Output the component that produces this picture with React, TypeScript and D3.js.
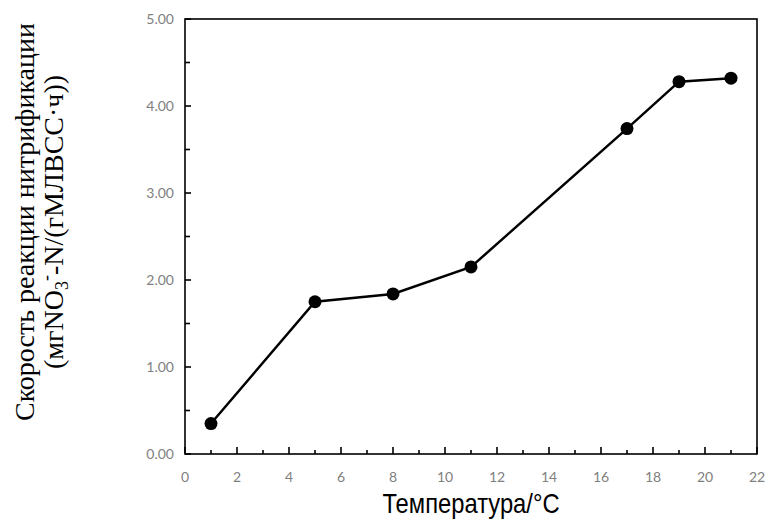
import React from "react";
import * as d3 from "d3";

const temperatures = [1, 5, 8, 11, 17, 19, 21];
const rates = [0.35, 1.75, 1.84, 2.15, 3.74, 4.28, 4.32];
const xTicks = [0, 2, 4, 6, 8, 10, 12, 14, 16, 18, 20, 22];
const xMinor = d3.range(1, 22, 2);
const yTicks = [0, 1, 2, 3, 4, 5];
const yMinor = [0.5, 1.5, 2.5, 3.5, 4.5];
const xTitle = "Температура/°C";
const yTitle1 = "Скорость реакции нитрификации";

const W = 767, H = 525;
const L = 185, R = 757, T = 19, B = 454;

export default function App() {
  const x = d3.scaleLinear().domain([0, 22]).range([L, R]);
  const y = d3.scaleLinear().domain([0, 5]).range([B, T]);
  const line = d3.line<number>().x((_, i) => x(temperatures[i])).y((d) => y(d));
  const tickFont = "Lato, 'Open Sans', sans-serif";
  return (
    <svg width={W} height={H} style={{ position: "absolute", left: 0, top: 0 }}>
      <rect x={0} y={0} width={W} height={H} fill="#fff" />
      <rect x={L} y={T} width={R - L} height={B - T} fill="none" stroke="#000" strokeWidth={1.6} />
      {yTicks.map((t) => (
        <g key={"y" + t}>
          <line x1={L} x2={L + 6} y1={y(t)} y2={y(t)} stroke="#000" strokeWidth={1.6} />
          <text x={L - 11} y={y(t)} dy="0.35em" textAnchor="end" fontSize={14} fill="#808080" fontFamily={tickFont}>
            {t.toFixed(2)}
          </text>
        </g>
      ))}
      {yMinor.map((t) => (
        <line key={"ym" + t} x1={L} x2={L + 5} y1={y(t)} y2={y(t)} stroke="#000" strokeWidth={1.6} />
      ))}
      {xTicks.map((t) => (
        <g key={"x" + t}>
          <line x1={x(t)} x2={x(t)} y1={B} y2={B - 7} stroke="#000" strokeWidth={1.6} />
          <text x={x(t)} y={B + 28} textAnchor="middle" fontSize={14} fill="#808080" fontFamily={tickFont}>
            {t}
          </text>
        </g>
      ))}
      {xMinor.map((t) => (
        <line key={"xm" + t} x1={x(t)} x2={x(t)} y1={B} y2={B - 4} stroke="#000" strokeWidth={1.6} />
      ))}
      <path d={line(rates) || ""} fill="none" stroke="#000" strokeWidth={2.5} />
      {rates.map((r, i) => (
        <circle key={i} cx={x(temperatures[i])} cy={y(r)} r={6.5} fill="#000" />
      ))}
      <g transform="translate(471,513) scale(0.88,1)">
        <text
          x={0}
          y={0}
          textAnchor="middle"
          fontSize={27}
          fill="#000"
          fontFamily="'Liberation Sans', Arial, sans-serif"
        >
          {xTitle}
        </text>
      </g>
      <g transform="translate(34,222) rotate(-90)" fontFamily="'Liberation Serif', 'Times New Roman', serif" fontSize={28} fill="#000">
        <text x={0} y={0} textAnchor="middle">{yTitle1}</text>
        <text x={0} y={29} textAnchor="middle">
          (мгNO<tspan fontSize={18} dy={5}>3</tspan>
          <tspan fontSize={18} dy={-16}>-</tspan>
          <tspan dy={11}>-N/(гМЛВСС·ч))</tspan>
        </text>
      </g>
    </svg>
  );
}
